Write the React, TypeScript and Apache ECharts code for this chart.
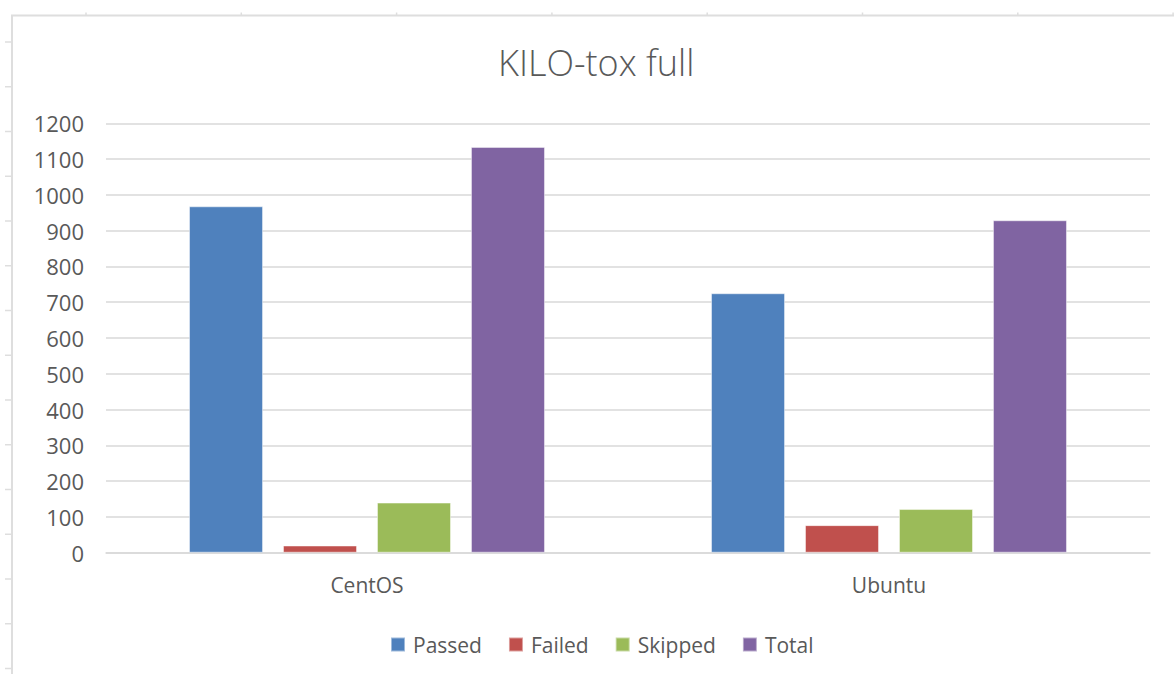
import React, { useEffect, useRef } from "react";
import * as echarts from "echarts";

const categories = ["CentOS", "Ubuntu"];
const seriesNames = ["Passed", "Failed", "Skipped", "Total"];
const passed = [968, 725];
const failed = [20, 77];
const skipped = [140, 122];
const total = [1134, 929];
const yTicks = [0, 100, 200, 300, 400, 500, 600, 700, 800, 900, 1000, 1100, 1200];
const colors = ["#4f81bd", "#c0504d", "#9bbb59", "#8064a2"];

const FONT = "'Open Sans', 'Noto Sans', sans-serif";
const TEXT = "#595959";
const SHEET = "#dedede";

export default function App() {
  const ref = useRef<HTMLDivElement>(null);
  useEffect(() => {
    document.body.style.margin = "0";
    const chart = echarts.init(ref.current!, null, { renderer: "svg" });
    const values = [passed, failed, skipped, total];

    const graphics: any[] = [
      { type: "line", shape: { x1: 11, y1: 15.5, x2: 1174, y2: 15.5 }, style: { stroke: SHEET, lineWidth: 2 }, silent: true },
      { type: "line", shape: { x1: 12, y1: 15, x2: 12, y2: 674 }, style: { stroke: SHEET, lineWidth: 2 }, silent: true },
    ];
    for (let x = 86; x < 1175; x += 155.3) {
      graphics.push({ type: "line", shape: { x1: x, y1: 12.5, x2: x, y2: 15 }, style: { stroke: SHEET, lineWidth: 1.5 }, silent: true });
    }
    for (let y = 42; y < 674; y += 44.75) {
      graphics.push({ type: "line", shape: { x1: 5, y1: y, x2: 12, y2: y }, style: { stroke: SHEET, lineWidth: 1.5 }, silent: true });
    }

    chart.setOption({
      animation: false,
      backgroundColor: "#ffffff",
      color: colors,
      title: {
        text: "KILO-tox full",
        left: 493,
        top: 39,
        textStyle: { fontFamily: FONT, fontWeight: 300, fontSize: 36, color: TEXT },
      },
      legend: {
        bottom: 14,
        left: 385,
        itemWidth: 14,
        itemHeight: 14,
        itemGap: 26,
        icon: "rect",
        textStyle: { fontFamily: FONT, fontSize: 21, color: TEXT, padding: [0, 0, 0, 3] },
        data: seriesNames,
      },
      grid: { left: 106, right: 24, top: 123.3, bottom: 121.3, containLabel: false },
      xAxis: {
        type: "category",
        data: categories,
        axisLine: { lineStyle: { color: "#d9d9d9", width: 1.5 } },
        axisTick: { show: false },
        axisLabel: { fontFamily: FONT, fontSize: 21, color: TEXT, margin: 22 },
      },
      yAxis: {
        type: "value",
        min: yTicks[0],
        max: yTicks[yTicks.length - 1],
        interval: 100,
        axisLine: { show: false },
        axisTick: { show: false },
        splitLine: { lineStyle: { color: "#d9d9d9", width: 1.5 } },
        axisLabel: { fontFamily: FONT, fontSize: 22, color: TEXT, margin: 22, formatter: (v: number) => String(v) },
      },
      series: seriesNames.map((name, i) => ({
        name,
        type: "bar",
        data: values[i],
        barWidth: 74,
        barGap: "27%",
        itemStyle: { color: colors[i], borderColor: "rgba(255,255,255,0.45)", borderWidth: 1 },
      })),
      graphic: graphics,
    });
    return () => chart.dispose();
  }, []);
  return <div ref={ref} style={{ width: 1174, height: 674 }} />;
}
